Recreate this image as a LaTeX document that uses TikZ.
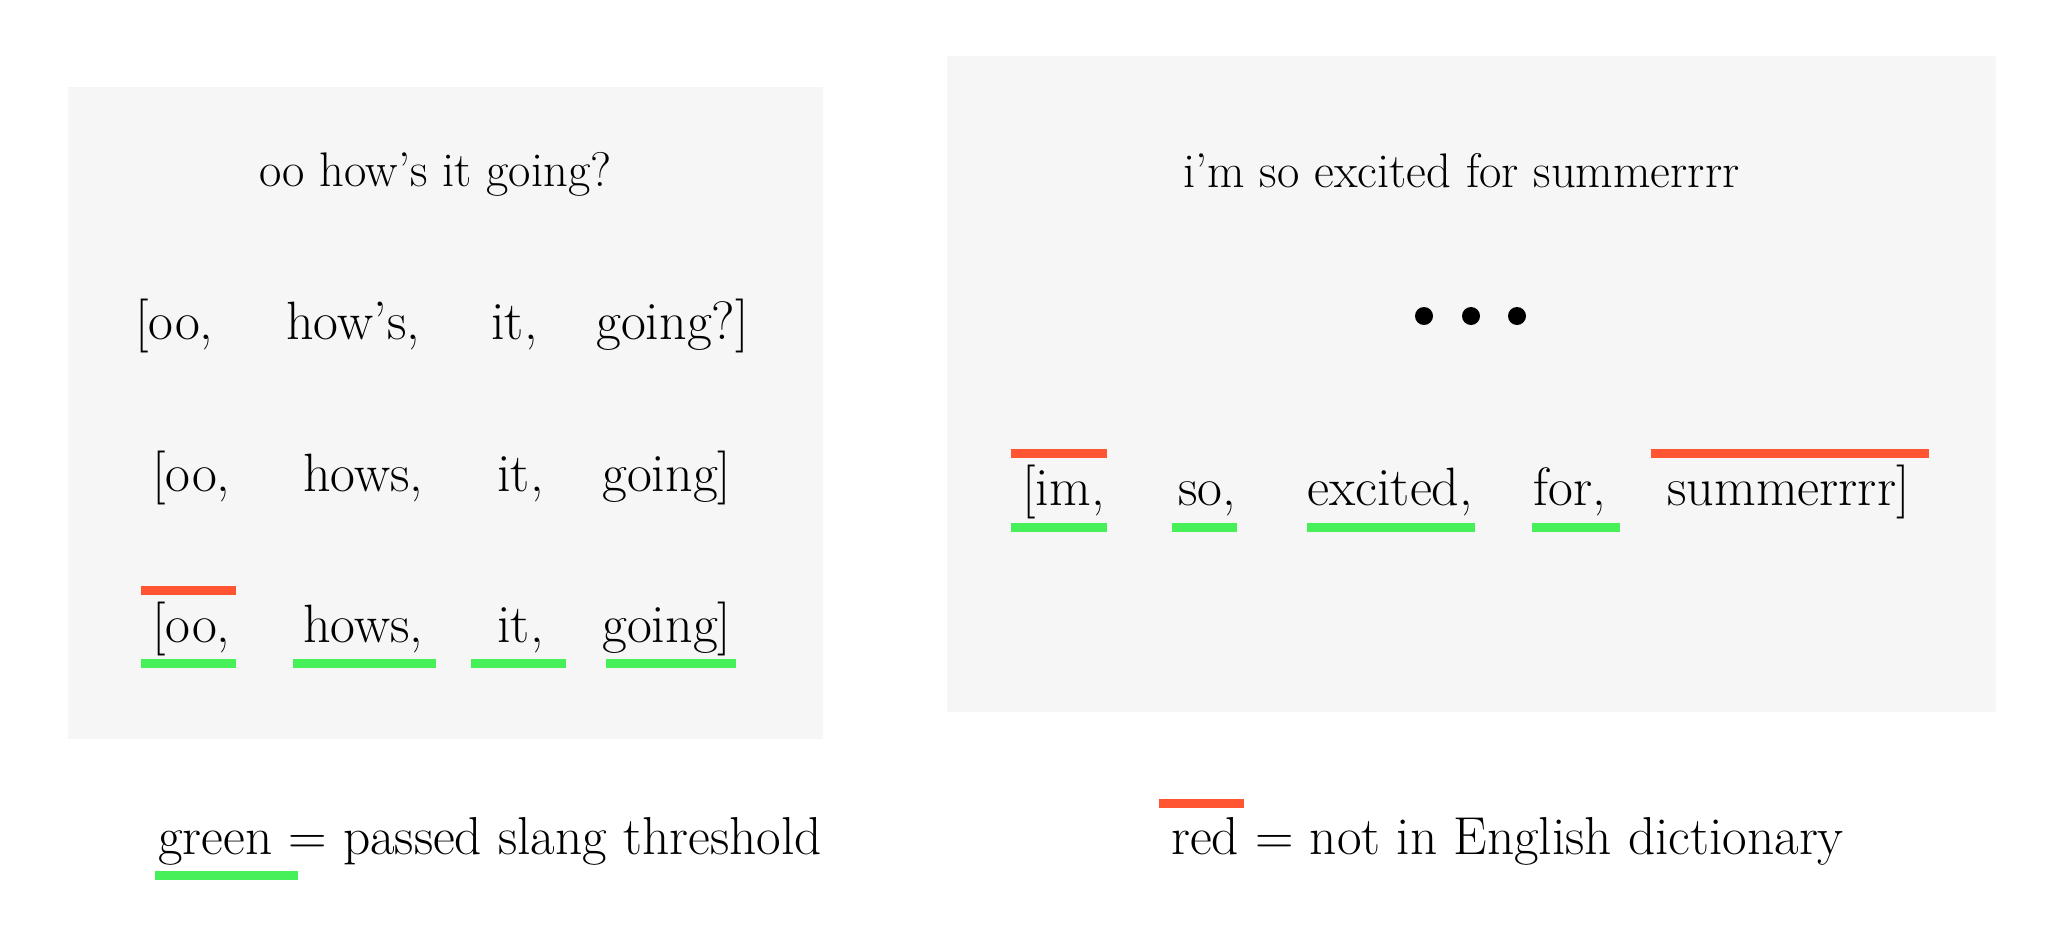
\documentclass[tikz,border=0pt]{standalone}
\usepackage{fontspec}
\definecolor{panel}{HTML}{F6F6F6}
\definecolor{okgreen}{HTML}{45F058}
\definecolor{badred}{HTML}{FF5533}
\begin{document}
\begin{tikzpicture}[x=0.5pt,y=-0.5pt,
  word/.style={anchor=base west,inner sep=0pt,font=\fontsize{27}{32}\selectfont},
  titletext/.style={anchor=base,inner sep=0pt,font=\fontsize{24.3}{29}\selectfont},
  legendtext/.style={anchor=base west,inner sep=0pt,font=\fontsize{26.7}{32}\selectfont},
  greenbar/.style={draw=okgreen,line width=4.5pt},
  redbar/.style={draw=badred,line width=4.5pt},
  dotmark/.style={circle,fill=black,inner sep=0pt,minimum size=9pt}]
\useasboundingbox (0,0) rectangle (2061,943);
% panels
\fill[panel] (68,87) rectangle (823,739);
\fill[panel] (947,56) rectangle (1996,712);
% left panel
\node[titletext] (t1) at (435.5,186) {oo how’s it going?};
\node[word] (a1) at (135,339) {[oo,};
\node[word] (a2) at (286,339) {how’s,};
\node[word] (a3) at (491,339) {it,};
\node[word] (a4) at (596,339) {going?]};
\node[word] (b1) at (152,491) {[oo,};
\node[word] (b2) at (303,491) {hows,};
\node[word] (b3) at (497,491) {it,};
\node[word] (b4) at (602,491) {going]};
\node[word] (c1) at (152,642) {[oo,};
\node[word] (c2) at (303,642) {hows,};
\node[word] (c3) at (497,642) {it,};
\node[word] (c4) at (602,642) {going]};
\draw[redbar] (141,590) -- (236,590);
\draw[greenbar] (141,663) -- (236,663);
\draw[greenbar] (293,663) -- (436,663);
\draw[greenbar] (471,663) -- (566,663);
\draw[greenbar] (606,663) -- (736,663);
% right panel
\node[titletext] (t2) at (1461.5,187) {i’m so excited for summerrrr};
\node[dotmark] (d1) at (1424,316) {};
\node[dotmark] (d2) at (1471,316) {};
\node[dotmark] (d3) at (1517,316) {};
\node[word] (e1) at (1022,505) {[im,};
\node[word] (e2) at (1178,505) {so,};
\node[word] (e3) at (1307,505) {excited,};
\node[word] (e4) at (1533,505) {for,};
\node[word] (e5) at (1667,505) {summerrrr]};
\draw[redbar] (1011,453) -- (1107,453);
\draw[redbar] (1651,453) -- (1929,453);
\draw[greenbar] (1011,527) -- (1107,527);
\draw[greenbar] (1172,527) -- (1237,527);
\draw[greenbar] (1307,527) -- (1475,527);
\draw[greenbar] (1532,527) -- (1620,527);
% legend
\node[legendtext] (lg) at (158,854) {green = passed slang threshold};
\draw[greenbar] (155,875) -- (298,875);
\node[legendtext] (lr) at (1171,854) {red = not in English dictionary};
\draw[redbar] (1159,803) -- (1244,803);
\end{tikzpicture}
\end{document}
